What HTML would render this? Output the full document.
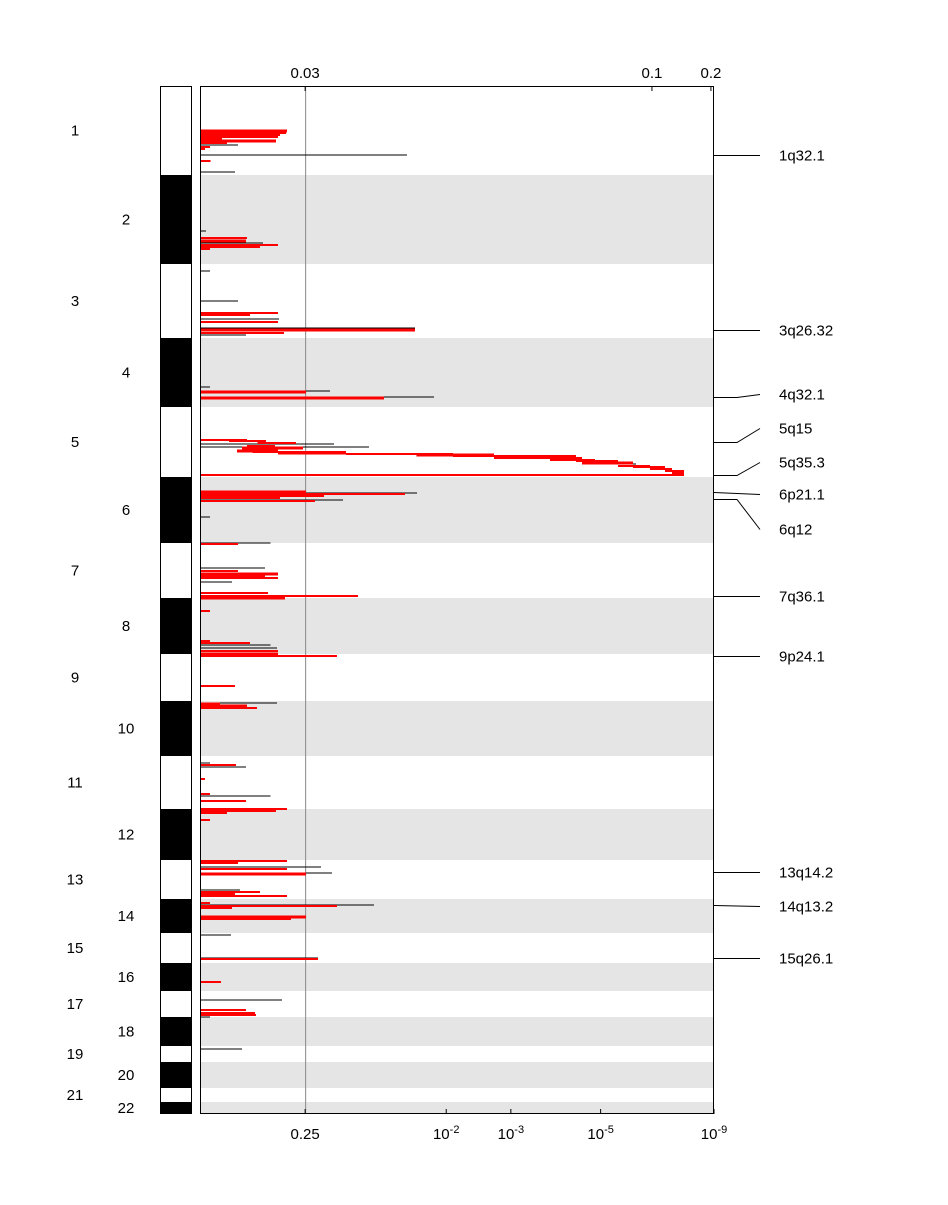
<!DOCTYPE html>
<html><head><meta charset="utf-8"><style>
body{margin:0;background:#fff;font-family:"Liberation Sans",sans-serif;}
svg text{font-family:"Liberation Sans",sans-serif;font-size:15px;fill:#000;}
</style></head><body>
<svg id="chart" width="948" height="1200"></svg>
<script>
const chromNames=["1","2","3","4","5","6","7","8","9","10","11","12","13","14","15","16","17","18","19","20","21","22"];
const chromBounds=[86,175,264,338,407,477,543,598,654,701,756,809,860,899,933,963,991,1017,1046,1062,1088,1102,1114];
const segY=[131,133,135,137,139,141,143,145,147,149,155,161,172,
231,238,241,243,245,247,249,271,
301,313,315,319,322,328,330,333,335,
387,391,392,397,398,
440,441,443,444,446,447,448,449,451,452,453,454,455,456,458,460,461,463,464,466,467,469,471,473,475,
492,493,494,496,498,500,501,517,543,544,
568,571,574,576,578,582,593,596,598,
611,641,643,645,648,651,654,656,
686,703,704,706,708,
763,765,767,779,794,796,801,809,811,813,820,
861,863,867,869,873,874,
890,892,894,896,903,905,906,908,917,919,935,
958,959,982,1000,1010,1013,1015,1017,1049];
const segScore=[.168,.166,.154,.150,.041,.146,.051,.072,.018,.008,.402,.019,.066,
.010,.090,.088,.121,.150,.115,.018,.018,
.072,.150,.096,.152,.150,.417,.417,.162,.088,
.018,.251,.205,.454,.357,
.090,.127,.185,.259,.144,.327,.199,.150,.150,.283,.283,.491,.571,.731,.743,.768,.813,.842,.848,.875,.904,.918,.942,.942,.942,
.205,.421,.398,.240,.154,.277,.222,.018,.135,.072,
.125,.072,.150,.125,.150,.060,.131,.306,.164,
.018,.018,.096,.135,.148,.150,.150,.265,
.066,.148,.037,.090,.109,
.018,.068,.088,.008,.018,.135,.088,.168,.146,.051,.018,
.168,.072,.234,.168,.255,.205,
.076,.115,.066,.168,.018,.337,.265,.060,.205,.175,.058,
.228,.228,.039,.158,.088,.105,.107,.018,.080];
const segStart=[0,0,0,0,0,0,0,0,0,0,0,0,0,
0,0,0,0,0,0,0,0,
0,0,0,0,0,0,0,0,0,
0,0,0,0,0,
0,.055,.11,0,.09,0,.08,.15,.07,.1,.15,.283,.42,.491,.571,.68,.731,.743,.768,.813,.842,.875,.904,.918,0,
0,0,0,0,0,0,0,0,0,0,
0,0,0,0,0,0,0,0,0,
0,0,0,0,0,0,0,0,
0,0,0,0,0,
0,0,0,0,0,0,0,0,0,0,0,
0,0,0,0,0,0,
0,0,0,0,0,0,0,0,0,0,0,
0,0,0,0,0,0,0,0,0];
const segType=["R","r","r","r","r","R","r","k","r","r","k","r","k",
"k","r","R","k","r","r","r","k",
"k","r","r","k","r","k","R","r","k",
"k","k","R","k","R",
"r","r","r","k","r","k","R","r","R","r","R","r","R","r","r","r","r","R","k","r","r","r","r","r","r",
"R","k","r","r","r","k","r","k","k","r",
"k","r","R","r","r","k","r","r","R",
"r","r","r","k","k","r","R","r",
"r","k","R","R","r",
"k","r","k","r","r","k","r","r","r","r","r",
"r","r","k","r","k","R",
"k","r","r","r","r","k","r","r","R","r","k",
"k","r","r","k","r","r","r","k","k"];
const peakNames=["1q32.1","3q26.32","4q32.1","5q15","5q35.3","6p21.1","6q12","7q36.1","9p24.1","13q14.2","14q13.2","15q26.1"];
const peakY=[155,330,397,442,475,492,499,596,656,872,905,958];
const peakLabelY=[155,330,394,428,462,494,529,596,656,872,906,958];
const topTicks=["0.03","0.1","0.2"], topTickScore=[.203,.879,.994];
const botTicks=["0.25","10-2","10-3","10-5","10-9"], botTickScore=[.203,.478,.604,.779,1];

const svg=document.getElementById('chart');
const NS="http://www.w3.org/2000/svg";
const X0=201,X1=714;
const xs=s=>X0+s*(X1-X0);
function mk(t,a,p){const e=document.createElementNS(NS,t);for(const k in a)e.setAttribute(k,a[k]);(p||svg).appendChild(e);return e;}

for(let i=0;i<chromNames.length;i++){
  const y0=chromBounds[i],y1=chromBounds[i+1],even=i%2==1;
  if(even){const bg=mk('rect',{x:201,y:y0,width:513,height:y1-y0,fill:'#e5e5e5'});
  
  }
  const b=mk('rect',{x:160.5,y:y0,width:31,height:y1-y0,fill:even?'#000':'#fff'});
  
  
  const t=mk('text',{x:even?126:75,y:(y0+y1)/2+5,'text-anchor':'middle'});t.textContent=chromNames[i];
  
  
}
const cb=mk('rect',{x:160.5,y:86.5,width:31,height:1027,fill:'none',stroke:'#000'});



const th=mk('line',{x1:xs(.203)+.5,x2:xs(.203)+.5,y1:86,y2:1114,stroke:'#888','stroke-width':1});



['k','r','R'].forEach(tp=>{
  for(let i=0;i<segY.length;i++){ if(segType[i]!==tp) continue;
    const l=mk('line',{x1:xs(segStart[i]),x2:xs(segScore[i]),y1:segY[i],y2:segY[i],stroke:tp=='k'?'#000':'#f00','stroke-width':tp=='R'?3:(tp=='r'?2:1),'shape-rendering':'crispEdges'});
    
    
  }
});

const fr=mk('rect',{x:200.5,y:86.5,width:513,height:1027,fill:'none',stroke:'#000'});



topTicks.forEach((l,i)=>{const x=xs(topTickScore[i]);
  mk('line',{x1:x,x2:x,y1:86,y2:91,stroke:'#000'});
  const t=mk('text',{x:x,y:78,'text-anchor':'middle'});t.textContent=l;
  
  });
botTicks.forEach((l,i)=>{const x=xs(botTickScore[i]);
  mk('line',{x1:x,x2:x,y1:1109,y2:1114,stroke:'#000'});
  const t=mk('text',{x:x,y:1139,'text-anchor':'middle'});
  if(l.startsWith('10')){t.textContent='10';const s=mk('tspan',{dy:-6,'font-size':11},t);s.textContent=l.slice(2);}
  else t.textContent=l;
  
  });

peakNames.forEach((n,i)=>{
  const y=peakY[i]+.5,ly=peakLabelY[i]+.5;
  const p=mk('polyline',{points:`714,${y} 737,${y} 760,${ly}`,fill:'none',stroke:'#000','stroke-width':1});
  if(Math.abs(ly-y)<3) p.setAttribute('points',`714,${y} 760,${ly}`);
  
  
  const t=mk('text',{x:779,y:ly+5});t.textContent=n;
  
  
});
</script>
</body></html>
